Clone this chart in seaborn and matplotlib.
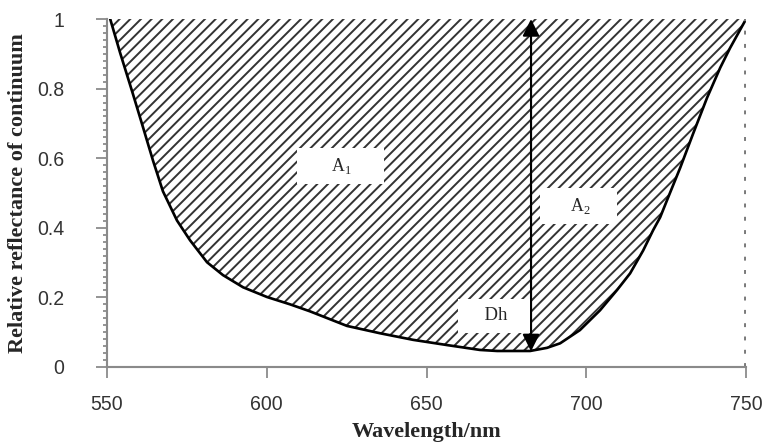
import matplotlib
matplotlib.use("Agg")
import numpy as np
import pandas as pd
import seaborn as sns
import matplotlib.pyplot as plt
from matplotlib.ticker import MultipleLocator

# continuum-removed reflectance
wavelength = [551.0, 554.1, 558.1, 561.3, 564.4, 567.5, 571.9, 576.0, 581.3, 586.3,
              592.6, 600.1, 607.3, 613.5, 625.1, 635.4, 645.8, 656.4, 666.7, 672.1,
              682.4, 687.7, 691.8, 698.0, 704.3, 709.6, 713.7, 717.8, 720.9, 723.1,
              725.6, 729.4, 733.4, 737.8, 741.9, 745.0, 750.0]
reflectance = [1.0, 0.903, 0.785, 0.688, 0.593, 0.505, 0.421, 0.364, 0.301, 0.264,
               0.229, 0.201, 0.180, 0.160, 0.118, 0.097, 0.078, 0.063, 0.049, 0.046,
               0.046, 0.055, 0.068, 0.106, 0.163, 0.221, 0.269, 0.335, 0.393, 0.430,
               0.487, 0.573, 0.670, 0.774, 0.860, 0.917, 1.0]

x_ticks = [550, 600, 650, 700, 750]
y_ticks = [0, 0.2, 0.4, 0.6, 0.8, 1]
y_tick_labels = ["0", "0.2", "0.4", "0.6", "0.8", "1"]

dh_wavelength = 682.7
dh_bottom = 0.045

df = pd.DataFrame({"wavelength": wavelength, "reflectance": reflectance})

sns.set_style("ticks")
plt.rcParams["font.family"] = ["Liberation Sans", "DejaVu Sans"]
plt.rcParams["hatch.linewidth"] = 1.1

fig = plt.figure(figsize=(766 / 128, 443 / 128), dpi=128)
ax = fig.add_axes([0.1397, 0.1716, 0.974 - 0.1397, 0.957 - 0.1716])

ax.fill_between(df["wavelength"], df["reflectance"], 1.0, facecolor="white",
                edgecolor="#333333", hatch="////", linewidth=0)
sns.lineplot(data=df, x="wavelength", y="reflectance", color="black", lw=1.5, ax=ax)

# dotted line on the right edge
ax.axvline(750, color="#7a7a7a", lw=2.2, ls=(0, (1, 2.4)))

ax.annotate("", xy=(dh_wavelength, 1.0), xytext=(dh_wavelength, dh_bottom),
            arrowprops=dict(arrowstyle="<|-|>", color="black", lw=1.2,
                            mutation_scale=20, shrinkA=0, shrinkB=0))

box = dict(boxstyle="square,pad=0.45", facecolor="white", edgecolor="none")
serif = ["Liberation Serif", "DejaVu Serif"]
ax.text(623.0, 0.577, "      A$_\\mathregular{1}$      ", ha="center", va="center",
        fontsize=10, family=serif, bbox=box)
ax.text(697.5, 0.462, "     A$_\\mathregular{2}$     ", ha="center", va="center",
        fontsize=10, family=serif, bbox=box)
ax.text(671.0, 0.147, "    Dh   ", ha="center", va="center",
        fontsize=10.5, family=serif, bbox=box)

ax.set_xlim(550, 750)
ax.set_ylim(0, 1)
ax.set_xticks(x_ticks)
ax.set_yticks(y_ticks)
ax.set_yticklabels(y_tick_labels)
ax.yaxis.set_minor_locator(MultipleLocator(0.02))

ax.tick_params(axis="both", which="major", colors="#8a8a8a", labelcolor="#333333",
               labelsize=11, length=6, width=1)
ax.tick_params(axis="y", which="major", pad=18)
ax.tick_params(axis="x", which="major", pad=10)
ax.tick_params(axis="y", which="minor", colors="#8a8a8a", length=2, width=1)

for side in ["top", "right"]:
    ax.spines[side].set_visible(False)
for side in ["left", "bottom"]:
    ax.spines[side].set_color("#8a8a8a")
    ax.spines[side].set_linewidth(1.2)

ax.set_xlabel("Wavelength/nm", fontsize=12.5, fontweight="bold", family=serif, labelpad=4)
ax.set_ylabel("Relative reflectance of continuum", fontsize=12.5, fontweight="bold",
              family=serif, labelpad=5)

fig.savefig("out.png", dpi=128)
